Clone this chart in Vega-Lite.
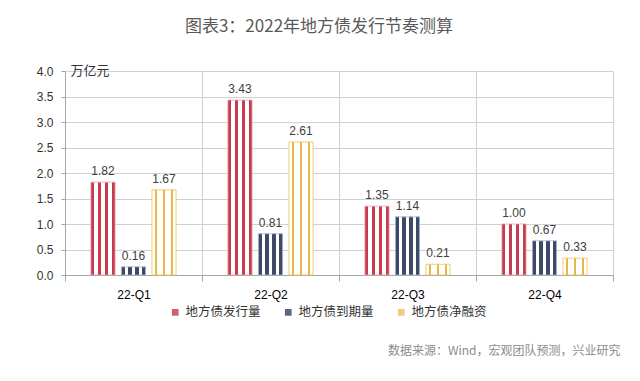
{
  "$schema": "https://vega.github.io/schema/vega-lite/v6.json",
  "width": 548,
  "height": 204,
  "autosize": "none",
  "padding": {"left": 65, "top": 71, "right": 27, "bottom": 106},
  "background": "white",
  "title": {"text": "图表3：2022年地方债发行节奏测算", "anchor": "middle", "frame": "group", "dx": -20, "offset": 28, "font": "Noto Sans CJK SC", "fontSize": 17, "fontWeight": "normal", "color": "#595959"},
  "data": {"values": [
    {"q": "22-Q1", "s": "地方债发行量", "v": 1.82},
    {"q": "22-Q1", "s": "地方债到期量", "v": 0.16},
    {"q": "22-Q1", "s": "地方债净融资", "v": 1.67},
    {"q": "22-Q2", "s": "地方债发行量", "v": 3.43},
    {"q": "22-Q2", "s": "地方债到期量", "v": 0.81},
    {"q": "22-Q2", "s": "地方债净融资", "v": 2.61},
    {"q": "22-Q3", "s": "地方债发行量", "v": 1.35},
    {"q": "22-Q3", "s": "地方债到期量", "v": 1.14},
    {"q": "22-Q3", "s": "地方债净融资", "v": 0.21},
    {"q": "22-Q4", "s": "地方债发行量", "v": 1.00},
    {"q": "22-Q4", "s": "地方债到期量", "v": 0.67},
    {"q": "22-Q4", "s": "地方债净融资", "v": 0.33}
  ]},
  "encoding": {
    "x": {"field": "q", "type": "nominal", "sort": null, "scale": {"paddingInner": 0, "paddingOuter": 0},
      "axis": {"title": "数据来源：Wind，宏观团队预测，兴业研究", "titleFont": "Noto Sans CJK SC", "titleFontSize": 12, "titleFontWeight": "normal", "titleColor": "#8c8c8c", "titleX": 555, "titleY": 75, "titleAlign": "right", "titleBaseline": "middle", "titleAnchor": null,
        "labelAngle": 0, "labelFont": "Liberation Sans", "labelFontSize": 12, "labelColor": "#000000", "labelPadding": 8, "tickBand": "extent", "tickSize": 6, "tickColor": "#a6a6a6", "domainColor": "#a6a6a6", "grid": true, "gridColor": "#d0d0d0"}},
    "xOffset": {"field": "s", "type": "nominal", "sort": ["地方债发行量", "地方债到期量", "地方债净融资"], "scale": {"domain": ["地方债发行量", "地方债到期量", "地方债净融资"], "paddingInner": 0.21, "paddingOuter": 0.85}},
    "y": {"field": "v", "type": "quantitative", "scale": {"domain": [0, 4]},
      "axis": {"title": "万亿元", "titleAngle": 0, "titleX": 5, "titleY": -1, "titleAlign": "left", "titleBaseline": "middle", "titleFont": "Noto Sans CJK SC", "titleFontSize": 13, "titleFontWeight": "normal", "titleColor": "#333333",
        "values": [0, 0.5, 1, 1.5, 2, 2.5, 3, 3.5, 4], "format": ".1f", "labelFont": "Liberation Sans", "labelFontSize": 12, "labelColor": "#333333", "tickSize": 4, "labelPadding": 8, "domainColor": "#a6a6a6", "tickColor": "#a6a6a6", "gridColor": "#d0d0d0"}}
  },
  "layer": [
    {"mark": {"type": "bar", "opacity": 0},
     "encoding": {"color": {"field": "s", "type": "nominal", "scale": {"domain": ["地方债发行量", "地方债到期量", "地方债净融资"], "range": ["#d0606f", "#5a6782", "#edcd78"]},
       "legend": {"title": null, "orient": "none", "direction": "horizontal", "legendX": 104, "legendY": 235, "symbolType": "square", "symbolSize": 45, "symbolOpacity": 1, "labelFont": "Noto Sans CJK SC", "labelFontSize": 12.5, "labelColor": "#333333", "labelOffset": 4, "columnPadding": 21, "padding": 0}}}},
    {"mark": {"type": "bar", "strokeWidth": 0.8},
     "encoding": {
       "fill": {"condition": [
         {"test": "datum.s === '地方债发行量'", "value": {"gradient": "linear", "x1": 0, "y1": 0, "x2": 1, "y2": 0, "stops": [
           {"offset": 0, "color": "#c63b4f"}, {"offset": 0.142, "color": "#c63b4f"}, {"offset": 0.144, "color": "#ffffff"}, {"offset": 0.284, "color": "#ffffff"},
           {"offset": 0.286, "color": "#c63b4f"}, {"offset": 0.427, "color": "#c63b4f"}, {"offset": 0.429, "color": "#ffffff"}, {"offset": 0.570, "color": "#ffffff"},
           {"offset": 0.572, "color": "#c63b4f"}, {"offset": 0.713, "color": "#c63b4f"}, {"offset": 0.715, "color": "#ffffff"}, {"offset": 0.856, "color": "#ffffff"},
           {"offset": 0.858, "color": "#c63b4f"}, {"offset": 1, "color": "#c63b4f"}]}},
         {"test": "datum.s === '地方债到期量'", "value": {"gradient": "linear", "x1": 0, "y1": 0, "x2": 1, "y2": 0, "stops": [
           {"offset": 0, "color": "#3c4a68"}, {"offset": 0.142, "color": "#3c4a68"}, {"offset": 0.144, "color": "#ffffff"}, {"offset": 0.284, "color": "#ffffff"},
           {"offset": 0.286, "color": "#3c4a68"}, {"offset": 0.427, "color": "#3c4a68"}, {"offset": 0.429, "color": "#ffffff"}, {"offset": 0.570, "color": "#ffffff"},
           {"offset": 0.572, "color": "#3c4a68"}, {"offset": 0.713, "color": "#3c4a68"}, {"offset": 0.715, "color": "#ffffff"}, {"offset": 0.856, "color": "#ffffff"},
           {"offset": 0.858, "color": "#3c4a68"}, {"offset": 1, "color": "#3c4a68"}]}}
       ],
       "value": {"gradient": "linear", "x1": 0, "y1": 0, "x2": 1, "y2": 0, "stops": [
           {"offset": 0, "color": "#ffffff"}, {"offset": 0.113, "color": "#ffffff"}, {"offset": 0.115, "color": "#e6b84a"}, {"offset": 0.217, "color": "#e6b84a"},
           {"offset": 0.219, "color": "#ffffff"}, {"offset": 0.445, "color": "#ffffff"}, {"offset": 0.447, "color": "#e6b84a"}, {"offset": 0.549, "color": "#e6b84a"},
           {"offset": 0.551, "color": "#ffffff"}, {"offset": 0.777, "color": "#ffffff"}, {"offset": 0.779, "color": "#e6b84a"}, {"offset": 0.881, "color": "#e6b84a"},
           {"offset": 0.883, "color": "#ffffff"}, {"offset": 1, "color": "#ffffff"}]}},
       "stroke": {"condition": [
         {"test": "datum.s === '地方债发行量'", "value": "#e3a3ad"},
         {"test": "datum.s === '地方债到期量'", "value": "#a9b4c8"}
       ], "value": "#e9c155"}
     }},
    {"mark": {"type": "text", "dy": -11, "font": "Liberation Sans", "fontSize": 12, "color": "#404040"},
     "encoding": {"text": {"field": "v", "type": "quantitative", "format": ".2f"}}}
  ]
}
